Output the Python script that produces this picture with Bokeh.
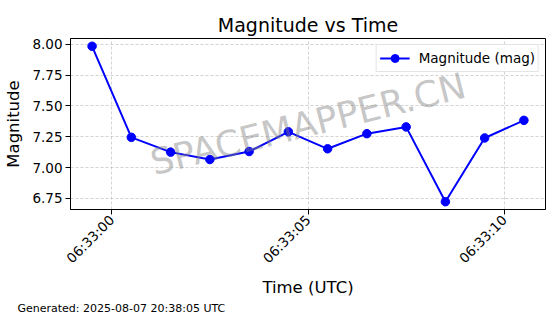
import math
import pandas as pd
from bokeh.plotting import figure
from bokeh.models import (Range1d, FixedTicker, DatetimeTickFormatter, Label, Title,
                          NumeralTickFormatter, ColumnDataSource)
from bokeh.embed import file_html
from bokeh.resources import INLINE

DATE = "2025-08-07"
times = ["06:32:59.5", "06:33:00.5", "06:33:01.5", "06:33:02.5", "06:33:03.5",
         "06:33:04.5", "06:33:05.5", "06:33:06.5", "06:33:07.5", "06:33:08.5",
         "06:33:09.5", "06:33:10.5"]
mags = [7.985, 7.245, 7.125, 7.065, 7.13, 7.29, 7.152, 7.275, 7.33, 6.722, 7.24, 7.383]
x_tick_labels = ["06:33:00", "06:33:05", "06:33:10"]
y_ticks = [6.75, 7.00, 7.25, 7.50, 7.75, 8.00]
title_text = "Magnitude vs Time"
x_label = "Time (UTC)"
y_label = "Magnitude"
series_name = "Magnitude (mag)"
watermark = "SPACEMAPPER.CN"
footer = "Generated: 2025-08-07 20:38:05 UTC"

FONT = "DejaVu Sans"

xs = pd.to_datetime([f"{DATE} {t}" for t in times])
src = ColumnDataSource(dict(x=xs, y=mags))

def ms(ts):
    return ts.value / 1e6

x_min, x_max = ms(xs.min()), ms(xs.max())
xpad = (x_max - x_min) * 0.05
y_min, y_max = min(mags), max(mags)
ypad = (y_max - y_min) * 0.05

p = figure(width=560, height=314, output_backend="svg", toolbar_location=None,
           x_axis_type="datetime",
           x_range=Range1d(x_min - xpad, x_max + xpad),
           y_range=Range1d(y_min - ypad, y_max + ypad),
           min_border_left=70, min_border_right=15, min_border_top=38,
           min_border_bottom=102)

p.title.text = title_text
p.title.align = "center"
p.title.text_font = FONT
p.title.text_font_size = "19px"
p.title.text_font_style = "normal"
p.title.text_color = "black"
p.title.standoff = 6

p.line("x", "y", source=src, color="#0000ff", line_width=2, legend_label=series_name)
p.scatter("x", "y", source=src, color="#0000ff", size=8.5, legend_label=series_name)

tick_vals = [ms(pd.Timestamp(f"{DATE} {t}")) for t in x_tick_labels]
p.xaxis.ticker = FixedTicker(ticks=tick_vals)
p.xaxis.formatter = DatetimeTickFormatter(seconds="%H:%M:%S", minsec="%H:%M:%S",
                                          minutes="%H:%M:%S", milliseconds="%H:%M:%S")
p.xaxis.major_label_orientation = math.pi / 4
p.yaxis.ticker = FixedTicker(ticks=y_ticks)
p.yaxis.formatter = NumeralTickFormatter(format="0.00")

p.xaxis.axis_label = x_label
p.yaxis.axis_label = y_label
for ax in (p.xaxis, p.yaxis):
    ax.axis_label_text_font = FONT
    ax.axis_label_text_font_size = "16.5px"
    ax.axis_label_text_font_style = "normal"
    ax.axis_label_text_color = "black"
    ax.major_label_text_font = FONT
    ax.major_label_text_font_size = "13.5px"
    ax.major_label_text_color = "black"
    ax.axis_line_color = "black"
    ax.major_tick_line_color = "black"
    ax.major_tick_out = 5
    ax.major_tick_in = 0
    ax.minor_tick_line_color = None
    ax.major_label_standoff = 3
p.xaxis.axis_label_standoff = 3
p.yaxis.axis_label_standoff = 6

p.outline_line_color = "black"
p.outline_line_alpha = 1
p.grid.grid_line_color = "#b0b0b0"
p.grid.grid_line_alpha = 0.7
p.grid.grid_line_dash = "3 2"
p.grid.grid_line_width = 0.8

wm = Label(x=(x_min + x_max) / 2, y=(y_min + y_max) / 2, text=watermark,
           text_font=FONT, text_font_size="36px", text_color="#808080",
           text_alpha=0.45, text_align="center", text_baseline="middle",
           angle=14, angle_units="deg")
p.add_layout(wm)

ft = Title(text=footer, align="left", offset=-53, standoff=0,
           text_font=FONT, text_font_size="11px", text_font_style="normal",
           text_color="black")
p.add_layout(ft, "below")

lg = p.legend[0]
lg.location = "top_right"
lg.margin = 6
lg.padding = 3
lg.spacing = 0
lg.label_text_font = FONT
lg.label_text_font_size = "13.5px"
lg.label_text_color = "black"
lg.glyph_width = 30
lg.glyph_height = 20
lg.label_height = 20
lg.label_standoff = 9
lg.border_line_color = "#cccccc"
lg.border_line_width = 1
lg.background_fill_alpha = 0.8

open("out.html", "w").write(file_html(p, INLINE))
